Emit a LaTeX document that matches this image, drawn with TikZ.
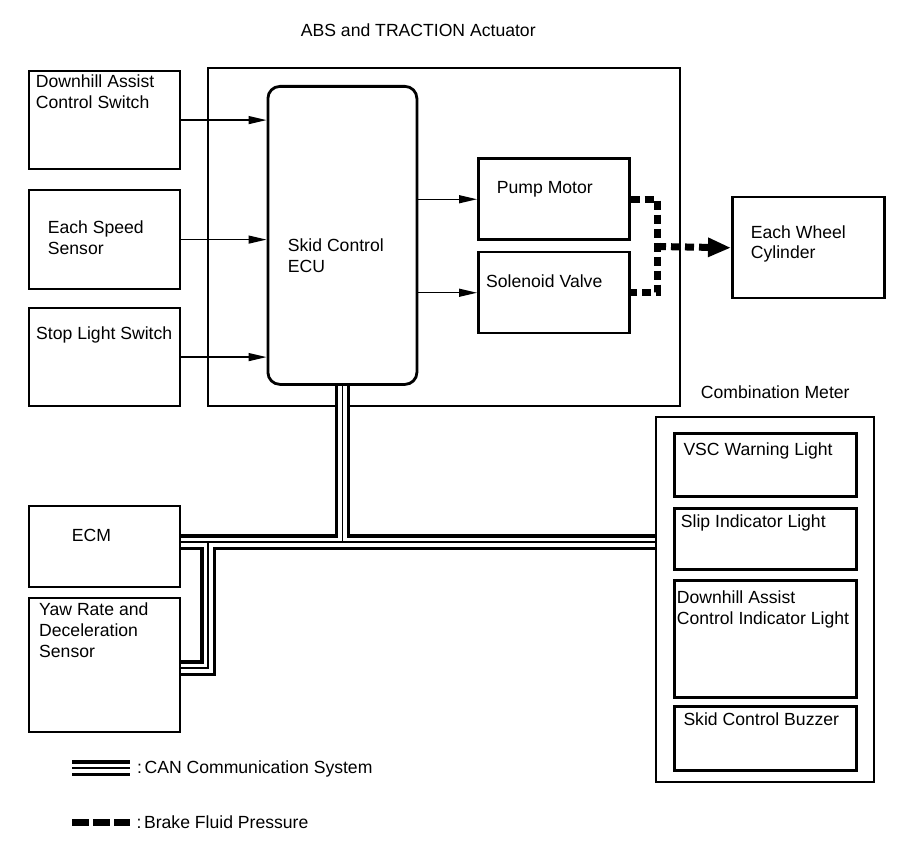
\documentclass[tikz,border=0pt]{standalone}
\usepackage{fontspec}
\setmainfont{Liberation Sans}
\usetikzlibrary{arrows.meta}
\pgfdeclarelayer{bg}
\pgfdeclarelayer{mid}
\pgfsetlayers{bg,mid,main}
\begin{document}
\begin{tikzpicture}[x=1pt,y=-1pt,
 box/.style={draw, line width=2.2pt, fill=white, anchor=north west, inner sep=0pt},
 framebox/.style={draw, line width=1.8pt, anchor=north west, inner sep=0pt},
 lamp/.style={draw, line width=3pt, fill=white, anchor=north west, inner sep=0pt},
 txt/.style={anchor=base west, inner sep=0pt, font=\fontsize{17.6}{21}\selectfont},
 sig/.style={line width=1.3pt, -{Triangle[length=18pt,width=8pt]}},
 fluid/.style={line width=7pt, dash pattern=on 9pt off 5pt},
 canouter/.style={line width=15.5pt, line join=miter},
 caninner/.style={line width=9pt, white, line join=miter},
 cancore/.style={line width=1.3pt}]
\useasboundingbox (0,0) rectangle (907,866);

% frames
\begin{pgfonlayer}{bg}
\node[framebox, minimum width=472pt, minimum height=338pt] (act) at (207,67) {};
\node[framebox, line width=2pt, minimum width=218pt, minimum height=365pt] (comb) at (655,416) {};
\end{pgfonlayer}

% boxes
\node[box, minimum width=151pt, minimum height=98pt] (dacs) at (28,70) {};
\node[box, minimum width=151pt, minimum height=99pt] (ess) at (28,189) {};
\node[box, minimum width=151pt, minimum height=98pt] (sls) at (28,307) {};
\node[box, line width=2.8pt, rounded corners=12pt, minimum width=149pt, minimum height=298pt] (ecu) at (266.5,85) {};
\node[box, line width=2.5pt, minimum width=151pt, minimum height=81pt] (pump) at (477,157.5) {};
\node[box, line width=2.5pt, minimum width=151pt, minimum height=81pt] (sol) at (477,251) {};
\node[box, line width=2.5pt, minimum width=152pt, minimum height=101pt] (wheel) at (731,196) {};
\node[box, minimum width=151pt, minimum height=81pt] (ecm) at (28,504.5) {};
\node[box, minimum width=151pt, minimum height=134pt] (yaw) at (28,597) {};
\node[lamp, minimum width=182pt, minimum height=63.5pt] (vsc) at (673,431.5) {};
\node[lamp, minimum width=182pt, minimum height=61pt] (slip) at (673,507) {};
\node[lamp, minimum width=182pt, minimum height=117pt] (dacil) at (673,579) {};
\node[lamp, minimum width=182pt, minimum height=64pt] (buzz) at (673,705) {};

% texts
\node[txt] (ttitle) at (300.7,36.7) {ABS and TRACTION Actuator};
\node[txt] (t1a) at (35.7,87.3) {Downhill Assist};
\node[txt] (t1b) at (35.7,108.3) {Control Switch};
\node[txt] (t2a) at (47.7,233.3) {Each Speed};
\node[txt] (t2b) at (47.7,254.3) {Sensor};
\node[txt] (t3) at (36,340) {Stop Light Switch};
\node[txt] (t4a) at (287.7,251.7) {Skid Control};
\node[txt] (t4b) at (287.7,272.3) {ECU};
\node[txt] (t5) at (496.7,193.3) {Pump Motor};
\node[txt] (t6) at (486,287.3) {Solenoid Valve};
\node[txt] (t7a) at (750.7,238.3) {Each Wheel};
\node[txt] (t7b) at (750.7,259) {Cylinder};
\node[txt] (t8) at (700.7,398.3) {Combination Meter};
\node[txt] (t9) at (683.3,455) {VSC Warning Light};
\node[txt] (t10) at (680.7,527.7) {Slip Indicator Light};
\node[txt] (t11a) at (676.7,603.3) {Downhill Assist};
\node[txt] (t11b) at (676.7,624.3) {Control Indicator Light};
\node[txt] (t12) at (683.3,725) {Skid Control Buzzer};
\node[txt] (t13) at (71.7,541) {ECM};
\node[txt] (t14a) at (39,615.7) {Yaw Rate and};
\node[txt] (t14b) at (39,636.7) {Deceleration};
\node[txt] (t14c) at (39,657.7) {Sensor};
\node[txt] (t15) at (137,773.3) {:\hspace{2.5pt}CAN Communication System};
\node[txt] (t16) at (136.5,828.3) {:\hspace{2.5pt}Brake Fluid Pressure};

% signal arrows
\draw[sig] (dacs.east) -- (dacs.east -| ecu.west);
\draw[sig] (ess.east) -- (ess.east -| ecu.west);
\draw[sig] (sls.east) -- (sls.east -| ecu.west);
\draw[sig] (ecu.east |- pump.west) -- (pump.west);
\draw[sig] (ecu.east |- sol.west) -- (sol.west);

% brake fluid
\coordinate (pj) at (657,246.5);
\draw[fluid, line join=miter] (pump.east) -- (pump.east -| pj) -- (sol.east -| pj) -- (sol.east);
\draw[fluid, -{Triangle[length=23pt,width=18pt]}] (pj) -- (wheel.west);

% CAN bus
\coordinate (bj) at (341,542);
\coordinate (yb) at (208,668);
\coordinate (lgA) at (72,768);
\coordinate (lgB) at (130,768);
\newcommand{\canpathsX}[1]{%
 \draw[#1] (ecu.south) -- (ecu.south |- bj);
 \draw[#1] (ecm.east |- bj) -- (comb.west |- bj);
 \draw[#1] (yb |- bj) -- (yb) -- (yaw.east |- yb);
 \draw[#1] (lgA) -- (lgB);
}
\begin{pgfonlayer}{mid}
\canpathsX{canouter}
\canpathsX{caninner}
\canpathsX{cancore}
\end{pgfonlayer}

% legend fluid
\coordinate (lfA) at (72,822.5);
\coordinate (lfB) at (130,822.5);
\draw[line width=7pt, dash pattern=on 17pt off 4pt] (lfA) -- (lfB);
\end{tikzpicture}
\end{document}
